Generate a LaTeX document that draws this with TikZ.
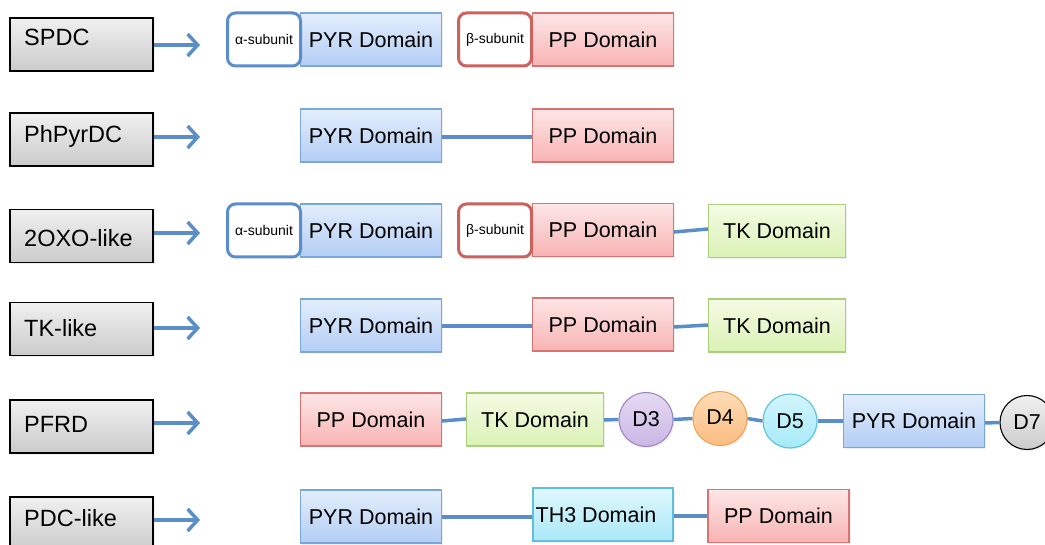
\documentclass[tikz,border=0pt]{standalone}
\usepackage{fontspec}
\setmainfont{Liberation Sans}
\usetikzlibrary{arrows.meta,shadows}
\definecolor{lnk}{HTML}{5B8EC9}
\definecolor{pyrT}{HTML}{E3EEFC}\definecolor{pyrB}{HTML}{B2CDF4}\definecolor{pyrD}{HTML}{7AA6D9}
\definecolor{ppT}{HTML}{FDE6E6}\definecolor{ppB}{HTML}{F8B3B3}\definecolor{ppD}{HTML}{D97373}
\definecolor{tkT}{HTML}{F4FBE4}\definecolor{tkB}{HTML}{DAF2B5}\definecolor{tkD}{HTML}{A9CF7C}
\definecolor{thT}{HTML}{E0F8FD}\definecolor{thB}{HTML}{AAE8F7}\definecolor{thD}{HTML}{5FC0DC}
\definecolor{dthT}{HTML}{E6DAF2}\definecolor{dthB}{HTML}{CBB6E5}\definecolor{dthD}{HTML}{9F86C5}
\definecolor{dfT}{HTML}{FDDBB5}\definecolor{dfB}{HTML}{FBBD82}\definecolor{dfD}{HTML}{F0A455}
\definecolor{dvT}{HTML}{D2F5FC}\definecolor{dvB}{HTML}{A6EAF8}\definecolor{dvD}{HTML}{5CC1DD}
\definecolor{gT}{HTML}{F0F0F0}\definecolor{gB}{HTML}{CBCBCB}
\definecolor{betaD}{HTML}{CC625E}
\tikzset{
  sh/.style={drop shadow={shadow xshift=1.5pt,shadow yshift=-1.5pt,opacity=0.12}},
  dom/.style={draw,line width=1.1pt,minimum height=53pt,inner sep=0pt,font=\fontsize{21.5}{25}\selectfont,sh},
  pyr/.style={dom,draw=pyrD,top color=pyrT,bottom color=pyrB,minimum width=141pt},
  pp/.style={dom,draw=ppD,top color=ppT,bottom color=ppB,minimum width=141pt},
  tk/.style={dom,draw=tkD,top color=tkT,bottom color=tkB,minimum width=137pt},
  th/.style={dom,draw=thD,top color=thT,bottom color=thB,minimum width=140pt},
  sub/.style={draw,line width=3pt,fill=white,rounded corners=8pt,minimum width=73pt,minimum height=53pt,inner sep=0pt,font=\fontsize{14}{16}\selectfont},
  alpha/.style={sub,draw=lnk},
  beta/.style={sub,draw=betaD},
  dd/.style={circle,draw,line width=1.1pt,minimum size=54pt,inner sep=0pt,font=\fontsize{21.5}{25}\selectfont,sh},
  fam/.style={draw=black,line width=1.2pt,top color=gT,bottom color=gB,minimum width=143pt,minimum height=53pt,sh},
  famtxt/.style={anchor=west,inner sep=0pt,font=\fontsize{23.5}{27}\selectfont},
  arr/.style={draw=lnk,line width=3.5pt,-{Straight Barb[length=10pt,width=22pt,line width=3.5pt]}},
  lk/.style={draw=lnk,line width=3.5pt}
}
\begin{document}
\begin{tikzpicture}[x=1pt,y=-1pt]
\useasboundingbox (0,0) rectangle (1045,545);
% family boxes
\node[fam] (spdc) at (81.5,44.5) {};
\node[fam] (phpyr) at (81.5,139.5) {};
\node[fam] (oxo) at (81.5,236) {};
\node[fam] (tkl) at (81.5,329) {};
\node[fam] (pfrd) at (81.5,426.5) {};
\node[fam] (pdc) at (81.5,523.5) {};
\node[famtxt] (tspdc) at (24,37) {SPDC};
\node[famtxt] (tphpyr) at (24,136) {PhPyrDC};
\node[famtxt] (toxo) at (24,238) {2OXO-like};
\node[famtxt] (ttkl) at (24,328) {TK-like};
\node[famtxt] (tpfrd) at (24,424) {PFRD};
\node[famtxt] (tpdc) at (24,518) {PDC-like};
% arrow ends
\coordinate (e1) at (200,45);
\coordinate (e2) at (200,137);
\coordinate (e3) at (200,233);
\coordinate (e4) at (200,328);
\coordinate (e5) at (200,423);
\coordinate (e6) at (200,520);
\draw[arr] (spdc.east |- e1) -- (e1);
\draw[arr] (phpyr.east |- e2) -- (e2);
\draw[arr] (oxo.east |- e3) -- (e3);
\draw[arr] (tkl.east |- e4) -- (e4);
\draw[arr] (pfrd.east |- e5) -- (e5);
\draw[arr] (pdc.east |- e6) -- (e6);
% row 1
\node[pyr] (pyr1) at (371,39.5) {PYR Domain};
\node[alpha] (a1) at (264,39.5) {α-subunit};
\node[pp] (pp1) at (603,39.5) {PP Domain};
\node[beta] (b1) at (495,39.5) {β-subunit};
% row 2
\node[pyr] (pyr2) at (371,135.5) {PYR Domain};
\node[pp] (pp2) at (603,135.5) {PP Domain};
% row 3
\node[pyr] (pyr3) at (371,230.5) {PYR Domain};
\node[alpha] (a3) at (264,230.5) {α-subunit};
\node[pp] (pp3) at (603,230) {PP Domain};
\node[beta] (b3) at (495,230.5) {β-subunit};
\node[tk] (tk3) at (777,231) {TK Domain};
% row 4
\node[pyr] (pyr4) at (371,325.5) {PYR Domain};
\node[pp] (pp4) at (603,324.5) {PP Domain};
\node[tk] (tk4) at (777,325.5) {TK Domain};
% row 5
\node[pp] (pp5) at (371,419.5) {PP Domain};
\node[tk] (tk5) at (535,419.5) {TK Domain};
\node[dd,draw=dthD,top color=dthT,bottom color=dthB] (d3) at (646,419.5) {D3};
\node[dd,draw=dfD,top color=dfT,bottom color=dfB] (d4) at (720,418.5) {\raisebox{3pt}{D4}};
\node[dd,draw=dvD,top color=dvT,bottom color=dvB] (d5) at (790,421) {D5};
\node[pyr] (pyr5) at (914,421) {PYR Domain};
\node[dd,draw=black,top color=gT,bottom color=gB] (d7) at (1027,422.5) {D7};
% row 6
\node[pyr] (pyr6) at (371,516.5) {PYR Domain};
\node[th] (th6) at (603,514.5) {TH3 Domain\kern14pt};
\node[pp] (pp6) at (778.5,516) {PP Domain};
% links
\draw[lk] (pyr2.east |- 0,137) -- (pp2.west |- 0,137);
\draw[lk] (pp3.east |- 0,232) -- (tk3.west |- 0,229);
\draw[lk] (pyr4.east |- 0,326) -- (pp4.west |- 0,326);
\draw[lk] (pp4.east |- 0,327) -- (tk4.west |- 0,325);
\draw[lk] (pp5.east |- 0,421) -- (tk5.west |- 0,419);
\draw[lk] (tk5.east |- 0,420) -- (d3.west);
\draw[lk] (d3.east) -- (d4.west);
\draw[lk] (d4.east) -- (d5.west);
\draw[lk] (d5.east) -- (pyr5.west |- 0,421);
\draw[lk] (pyr5.east |- 0,423) -- (d7.west);
\draw[lk] (pyr6.east |- 0,517) -- (th6.west |- 0,517);
\draw[lk] (th6.east |- 0,516) -- (pp6.west |- 0,516);
\end{tikzpicture}
\end{document}
